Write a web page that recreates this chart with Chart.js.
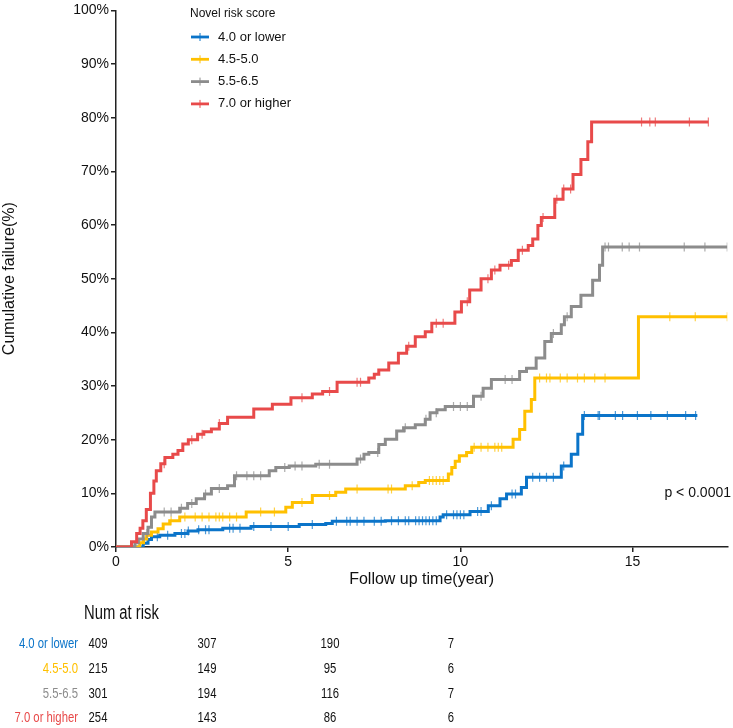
<!DOCTYPE html>
<html>
<head>
<meta charset="utf-8">
<script src="https://cdn.jsdelivr.net/npm/chart.js@4"></script>
<style>
  body { margin: 0; background: #fff; }
  #wrap { width: 733px; height: 728px; }
</style>
</head>
<body>
<div id="wrap"><canvas id="kmChart" width="733" height="728"></canvas></div>
<script>
// Series names and colors
const groupNames = ['4.0 or lower', '4.5-5.0', '5.5-6.5', '7.0 or higher'];
const groupColors = ['#0b74c9', '#ffc000', '#8c8c8c', '#e84a4a'];

// Step data (time in years, cumulative failure %)
const lowTimes = [0, 0.79, 0.93, 1.03, 1.27, 1.71, 2.09, 2.38, 3.1, 3.92, 5.32, 6.09, 6.28, 7.82, 9.41, 9.5, 10.28, 10.81, 11.15, 11.34, 11.77, 11.92, 12.93, 13.22, 13.41, 13.55, 16.88];
const lowValues = [0, 0.7, 1.4, 1.9, 2.2, 2.5, 3.0, 3.2, 3.5, 3.8, 4.2, 4.4, 4.8, 4.9, 5.6, 6.0, 6.6, 7.7, 9.0, 9.9, 11.1, 13.0, 15.1, 17.3, 21.0, 24.5, 24.5];

const midLowTimes = [0, 0.69, 0.8, 0.89, 1.03, 1.22, 1.37, 1.56, 1.85, 3.78, 4.93, 5.12, 5.7, 6.38, 6.67, 8.4, 8.79, 8.98, 9.65, 9.75, 9.85, 9.97, 10.18, 10.33, 11.53, 11.72, 11.87, 12.06, 12.16, 15.17, 17.75];
const midLowValues = [0, 0.8, 1.5, 2.2, 2.8, 3.4, 4.3, 4.9, 5.6, 6.5, 7.4, 8.3, 9.6, 10.2, 10.8, 11.4, 12.0, 12.4, 13.6, 14.8, 16.0, 17.0, 17.6, 18.6, 20.1, 21.9, 25.3, 27.5, 31.5, 42.9, 42.9];

const midHighTimes = [0, 0.55, 0.65, 0.79, 0.93, 1.03, 1.13, 1.85, 2.08, 2.33, 2.57, 2.77, 3.24, 3.44, 4.45, 4.64, 5.03, 5.8, 7.0, 7.2, 7.34, 7.63, 7.82, 8.15, 8.35, 8.69, 8.98, 9.12, 9.32, 9.56, 10.38, 10.66, 10.9, 11.72, 11.92, 12.2, 12.45, 12.64, 12.93, 13.02, 13.22, 13.5, 13.84, 14.04, 14.13, 17.75];
const midHighValues = [0, 0.8, 1.5, 2.5, 3.7, 5.6, 6.5, 7.2, 8.1, 9.0, 9.9, 10.9, 11.4, 13.3, 14.2, 14.8, 15.1, 15.4, 16.4, 17.3, 17.6, 19.1, 20.1, 21.6, 22.2, 22.8, 23.8, 25.0, 25.6, 26.2, 28.1, 29.6, 31.2, 32.7, 33.3, 35.2, 38.3, 39.8, 41.4, 42.9, 44.8, 46.9, 49.7, 52.5, 55.9, 55.9];

const highTimes = [0, 0.45, 0.6, 0.7, 0.78, 0.88, 1.0, 1.1, 1.17, 1.3, 1.42, 1.65, 1.8, 1.94, 2.1, 2.37, 2.55, 2.77, 3.0, 3.24, 4.0, 4.54, 5.08, 5.7, 6.0, 6.42, 7.34, 7.5, 7.63, 7.92, 8.2, 8.44, 8.69, 8.98, 9.17, 9.84, 10.03, 10.27, 10.6, 10.9, 11.15, 11.48, 11.68, 11.97, 12.1, 12.25, 12.35, 12.74, 12.98, 13.27, 13.5, 13.7, 13.81, 17.2];
const highValues = [0, 1.0, 2.5, 3.5, 4.9, 7.0, 10.0, 12.3, 14.2, 15.5, 16.7, 17.3, 18.0, 19.2, 20.0, 21.0, 21.5, 22.0, 23.0, 24.2, 25.7, 26.6, 27.8, 28.5, 29.0, 30.7, 31.5, 32.2, 33.0, 34.3, 36.1, 37.4, 39.2, 40.1, 41.7, 43.8, 45.7, 47.9, 50.0, 51.6, 52.5, 53.4, 55.3, 56.2, 57.4, 59.9, 61.4, 64.8, 66.7, 69.4, 72.2, 75.5, 79.2, 79.2];

// Censoring times (tick marks on the curves)
const lowCensor = [1.2, 1.5, 1.9, 2.0, 2.1, 2.4, 2.6, 2.7, 3.3, 3.4, 3.6, 4.0, 4.5, 5.0, 5.7, 6.4, 6.7, 6.8, 7.0, 7.2, 7.5, 7.7, 8.0, 8.2, 8.4, 8.5, 8.7, 8.8, 8.9, 9.0, 9.1, 9.2, 9.3, 9.6, 9.8, 9.9, 10.0, 10.1, 10.5, 10.6, 10.9, 11.5, 11.6, 12.1, 12.3, 12.5, 12.7, 13.0, 13.6, 14.0, 14.04, 14.5, 14.71, 15.14, 15.53, 16.01, 16.54, 16.83];
const midLowCensor = [1.6, 2.0, 2.3, 2.5, 2.7, 2.9, 3.0, 3.1, 3.3, 3.5, 4.2, 4.6, 5.4, 6.2, 7.0, 7.9, 8.0, 8.6, 9.1, 9.2, 9.3, 9.4, 9.5, 10.4, 10.6, 10.8, 11.0, 11.1, 11.2, 12.3, 12.5, 12.6, 12.9, 13.1, 13.4, 13.6, 13.9, 14.2, 16.08, 16.82, 17.75];
const midHighCensor = [0.9, 1.4, 1.6, 1.9, 2.2, 2.6, 3.0, 3.5, 3.8, 4.0, 4.2, 4.9, 5.2, 5.4, 5.9, 6.2, 7.1, 7.6, 8.4, 9.0, 9.3, 9.8, 10.0, 10.2, 10.6, 11.3, 11.5, 12.7, 13.1, 14.2, 14.3, 14.7, 14.9, 15.2, 16.5, 17.1, 17.75];
const highCensor = [1.4, 2.2, 2.5, 3.0, 5.4, 6.2, 7.0, 7.1, 8.5, 9.3, 9.5, 10.2, 10.8, 11.0, 11.4, 11.8, 12.4, 12.8, 13.0, 13.2, 15.26, 15.5, 15.66, 16.65, 17.2];

// Axis ticks
const xTicks = [0, 5, 10, 15];
const yTicks = [0, 10, 20, 30, 40, 50, 60, 70, 80, 90, 100];

// Number at risk table
const riskTimes = [0, 5, 10, 15];
const riskLow = [409, 307, 190, 7];
const riskMidLow = [215, 149, 95, 6];
const riskMidHigh = [301, 194, 116, 7];
const riskHigh = [254, 143, 86, 6];

const FONT = "'Liberation Sans', Arial, sans-serif";

const stepTimes = [lowTimes, midLowTimes, midHighTimes, highTimes];
const stepValues = [lowValues, midLowValues, midHighValues, highValues];
const censorTimes = [lowCensor, midLowCensor, midHighCensor, highCensor];
const riskRows = [riskLow, riskMidLow, riskMidHigh, riskHigh];

// value of the step curve at time t
function stepAt(times, values, t) {
    let v = 0;
    for (let i = 0; i < times.length; i++) {
        if (times[i] <= t) v = values[i];
    }
    return v;
}

const datasets = [];
groupNames.forEach((name, i) => {
    datasets.push({
        label: name,
        data: stepTimes[i].map((t, j) => ({ x: t, y: stepValues[i][j] })),
        showLine: true,
        borderColor: groupColors[i],
        borderWidth: 3,
        stepped: 'before',
        pointRadius: 0,
        fill: false,
        order: 4 - i
    });
});
groupNames.forEach((name, i) => {
    datasets.push({
        label: name + ' censored',
        data: censorTimes[i].map(t => ({ x: t, y: stepAt(stepTimes[i], stepValues[i], t) })),
        showLine: false,
        pointStyle: 'line',
        rotation: 90,
        pointRadius: 4.5,
        pointBorderWidth: 1.2,
        pointBorderColor: groupColors[i] + 'bb',
        pointBackgroundColor: groupColors[i],
        order: 4 - i
    });
});

// condensed text (the table uses a narrow face)
function narrowText(ctx, text, x, y, align, sx) {
    ctx.save();
    ctx.translate(x, y);
    ctx.scale(sx, 1);
    ctx.textAlign = align;
    ctx.fillText(text, 0, 0);
    ctx.restore();
}

// legend, p value and risk table drawn on top
const extrasPlugin = {
    id: 'extras',
    afterDraw(chart) {
        const ctx = chart.ctx;
        ctx.save();
        ctx.textBaseline = 'middle';

        // legend
        ctx.fillStyle = '#111';
        ctx.textAlign = 'left';
        ctx.font = '12px ' + FONT;
        ctx.fillText('Novel risk score', 190, 14);
        groupNames.forEach((name, i) => {
            const y = 37 + i * 22.3;
            ctx.strokeStyle = groupColors[i];
            ctx.lineWidth = 2.8;
            ctx.beginPath();
            ctx.moveTo(191, y);
            ctx.lineTo(209, y);
            ctx.stroke();
            ctx.lineWidth = 1;
            ctx.beginPath();
            ctx.moveTo(200, y - 4);
            ctx.lineTo(200, y + 4);
            ctx.stroke();
            ctx.fillStyle = '#111';
            ctx.font = '13px ' + FONT;
            ctx.fillText(name, 218, y);
        });

        // p value
        ctx.textAlign = 'right';
        ctx.font = '14px ' + FONT;
        ctx.fillText('p < 0.0001', 731, 493);

        // risk table
        ctx.font = '20px ' + FONT;
        ctx.fillStyle = '#111';
        narrowText(ctx, 'Num at risk', 84, 613, 'left', 0.74);
        const colX = [98, 207, 330, 451];
        riskRows.forEach((row, i) => {
            const y = 644 + i * 24.7;
            ctx.font = '15.5px ' + FONT;
            ctx.fillStyle = groupColors[i];
            narrowText(ctx, groupNames[i], 78, y, 'right', 0.73);
            ctx.fillStyle = '#111';
            row.forEach((n, j) => {
                narrowText(ctx, String(n), colX[j], y, 'center', 0.73);
            });
        });
        ctx.restore();
    }
};

const whiteBg = {
    id: 'whiteBg',
    beforeDraw(chart) {
        const ctx = chart.ctx;
        ctx.save();
        ctx.fillStyle = '#fff';
        ctx.fillRect(0, 0, chart.width, chart.height);
        ctx.restore();
    }
};

new Chart(document.getElementById('kmChart'), {
    type: 'scatter',
    data: { datasets },
    options: {
        responsive: false,
        animation: false,
        devicePixelRatio: 1,
        layout: { padding: { top: 7, right: 3, bottom: 136, left: 0 } },
        plugins: {
            legend: { display: false },
            tooltip: { enabled: false }
        },
        scales: {
            x: {
                type: 'linear',
                min: 0,
                max: 17.75,
                afterBuildTicks: scale => { scale.ticks = xTicks.map(v => ({ value: v })); },
                afterFit: scale => { scale.height = 45; },
                grid: { drawOnChartArea: false, drawTicks: true, tickLength: 5, color: '#222', lineWidth: 1.5 },
                border: { display: true, color: '#222', width: 1.5 },
                ticks: { color: '#111', font: { size: 14, family: FONT }, padding: 2, maxRotation: 0 },
                title: { display: true, text: 'Follow up time(year)', color: '#111', font: { size: 16, family: FONT }, padding: { top: 0, bottom: 3 } }
            },
            y: {
                type: 'linear',
                min: 0,
                max: 100,
                afterBuildTicks: scale => { scale.ticks = yTicks.map(v => ({ value: v })); },
                afterFit: scale => { scale.width = 116; },
                grid: { drawOnChartArea: false, drawTicks: true, tickLength: 5, color: '#222', lineWidth: 1.5 },
                border: { display: true, color: '#222', width: 1.5 },
                ticks: { color: '#111', font: { size: 14, family: FONT }, padding: 2, callback: v => v + '%' },
                title: { display: true, text: 'Cumulative failure(%)', color: '#111', font: { size: 16, family: FONT }, padding: { top: 0, bottom: 2 } }
            }
        }
    },
    plugins: [whiteBg, extrasPlugin]
});
</script>
</body>
</html>
